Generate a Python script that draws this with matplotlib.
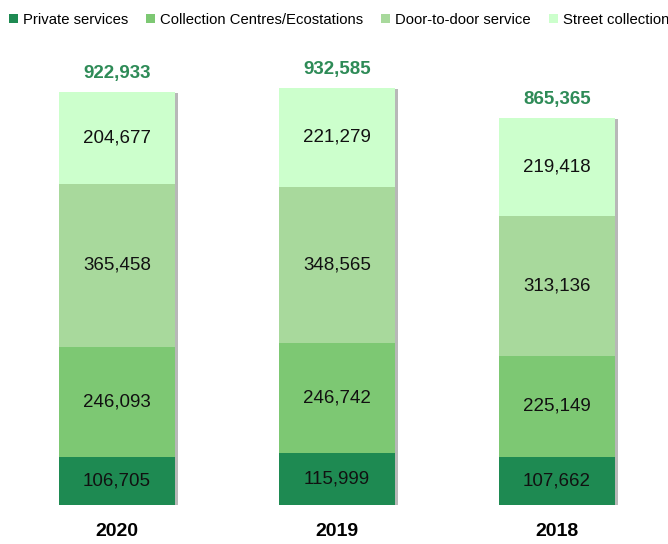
import matplotlib
matplotlib.use("Agg")
import matplotlib.pyplot as plt
from matplotlib.patches import Patch, Rectangle
from matplotlib.transforms import offset_copy

years = ["2020", "2019", "2018"]
series_names = ["Private services", "Collection Centres/Ecostations",
                "Door-to-door service", "Street collection"]
private_services = [106705, 115999, 107662]
collection_centres = [246093, 246742, 225149]
door_to_door = [365458, 348565, 313136]
street_collection = [204677, 221279, 219418]
colors = ["#1e8a52", "#7dc873", "#a8d99c", "#ccffcc"]

series = [private_services, collection_centres, door_to_door, street_collection]
totals = [sum(v) for v in zip(*series)]

plt.rcParams["font.family"] = ["Liberation Sans", "DejaVu Sans"]

fig = plt.figure(figsize=(6.68, 5.44), dpi=100)
ax = fig.add_axes([0, 1 - 505 / 544, 1, 460 / 544])
x = list(range(len(years)))
width = 116 / 220

# soft drop shadow behind each full stack
shadow_tr = offset_copy(ax.transData, fig=fig, x=2.5, y=-1.5, units="dots")
for xi, t in zip(x, totals):
    ax.add_patch(Rectangle((xi - width / 2, 0), width, t, transform=shadow_tr,
                           facecolor="#b8b8b8", edgecolor="none", zorder=2))

bottoms = [0] * len(years)
for vals, col in zip(series, colors):
    ax.bar(x, vals, width=width, bottom=bottoms, color=col,
           edgecolor="none", zorder=3)
    for xi, v, b in zip(x, vals, bottoms):
        ax.text(xi, b + v / 2, f"{v:,}", ha="center", va="center",
                fontsize=13.5, color="#111111", zorder=4)
    bottoms = [b + v for b, v in zip(bottoms, vals)]

for xi, t in zip(x, totals):
    ax.text(xi, t + 22000, f"{t:,}", ha="center", va="bottom",
            fontsize=13.5, fontweight="bold", color="#2e8b57")

ax.set_xlim(-117 / 220, (668 - 117) / 220)
ax.set_ylim(0, 460 / 0.4475e-3)
ax.set_xticks(x)
ax.set_xticklabels(years, fontsize=14, fontweight="bold")
ax.tick_params(axis="x", length=0, pad=13)
ax.set_yticks([])
for s in ax.spines.values():
    s.set_visible(False)

handles = [Patch(facecolor=c, edgecolor="none") for c in colors]
fig.legend(handles, series_names, loc="upper left", bbox_to_anchor=(0.0, 0.993),
           ncol=4, frameon=False, fontsize=10.7, handlelength=0.6, handleheight=0.6,
           handletextpad=0.35, columnspacing=1.2, borderaxespad=0.2)

fig.savefig("out.png", dpi=100)
